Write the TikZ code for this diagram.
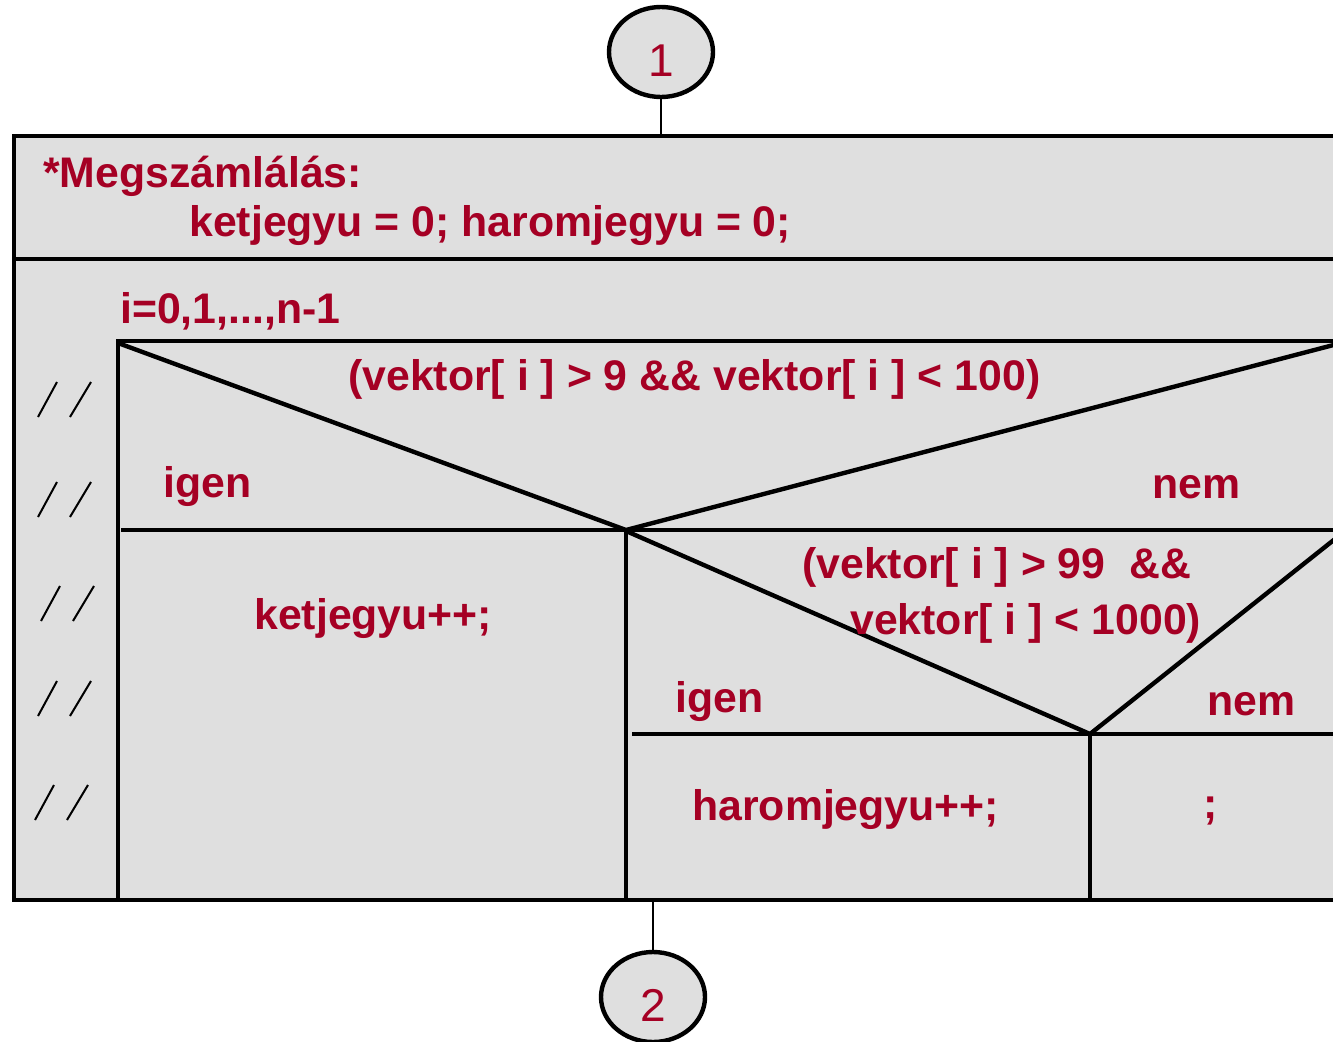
\documentclass[tikz,border=0pt]{standalone}
\usepackage{fontspec}
\setmainfont{Liberation Sans}
\usetikzlibrary{shapes.geometric}
\definecolor{txtred}{RGB}{165,0,36}
\definecolor{boxgray}{RGB}{223,223,223}
\tikzset{
  lbl/.style={anchor=base west, inner sep=0pt, text=txtred,
              font=\fontsize{32.1}{36}\selectfont\bfseries},
  frame/.style={draw=black, line width=3.3pt},
  thin/.style={draw=black, line width=1.5pt},
  joint/.style={ellipse, draw=black, line width=3.3pt, fill=boxgray,
                minimum width=78pt, minimum height=67.5pt, inner sep=0pt,
                text height=37pt, text depth=0pt,
                text=txtred, font=\fontsize{34.5}{38}\selectfont},
  hatch/.style={draw=black, line width=1.5pt},
}
\begin{document}
\begin{tikzpicture}[x=0.75pt, y=-0.75pt]
\useasboundingbox (0,0) rectangle (1333,1041);
\clip (0,0) rectangle (1333,1041);

% outer structogram frame and header separator
\coordinate (tl) at (14,136);
\coordinate (br) at (1370,900);
\fill[boxgray] (tl) rectangle (br);
\draw[frame] (1370,136) -- (tl) -- (14,900) -- (br);
\draw[frame] (14,259) -- (1370,259);

% connector points
\coordinate (topjoin) at (661,136);
\coordinate (botjoin) at (653,900);

% joint circles
\node[joint] (c1) at (661,52) {1};
\node[joint] (c2) at (653,997) {2};
\draw[thin] (c1.south) -- (topjoin);
\draw[thin] (botjoin) -- (c2.north);

% header texts
\node[lbl] (title) at (43,188) {*Megszámlálás:};
\node[lbl] (init) at (189,237) {ketjegyu = 0; haromjegyu = 0;};

% loop body
\node[lbl] (loop) at (120,323) {i=0,1,...,n-1};
\draw[frame] (118,900) -- (118,341) -- (1370,341);

% parallel marks
\foreach \y/\dx in {417/0, 517/0, 621/3, 716/0, 820/-3}{
  \draw[hatch] (38+\dx,\y) -- (57+\dx,\y-35);
  \draw[hatch] (70+\dx,\y) -- (91+\dx,\y-35);
}

% first decision
\coordinate (a1) at (626,530);
\draw[frame] (118,343) -- (a1) -- (1345,342);
\draw[frame] (121,530) -- (1370,530);
\draw[frame] (a1) -- (626,900);
\node[lbl] (cond1) at (348,390) {(vektor[ i ] > 9 \&\& vektor[ i ] < 100)};
\node[lbl] (yes1) at (163,497) {igen};
\node[lbl] (no1) at (1152,498) {nem};
\node[lbl] (inc1) at (254,629) {ketjegyu++;};

% second decision
\coordinate (a2) at (1090,734);
\draw[frame] (626,531) -- (a2) -- (1345,531);
\draw[frame] (632,734) -- (1370,734);
\draw[frame] (a2) -- (1090,900);
\node[lbl] (cond2a) at (802,578) {(vektor[ i ] > 99\ \ \&\&};
\node[lbl] (cond2b) at (850,634) {vektor[ i ] < 1000)};
\node[lbl] (yes2) at (675,712) {igen};
\node[lbl] (no2) at (1207,715) {nem};
\node[lbl] (inc2) at (692,820) {haromjegyu++;};
\node[lbl] (empty) at (1203,818) {;};
\end{tikzpicture}
\end{document}
